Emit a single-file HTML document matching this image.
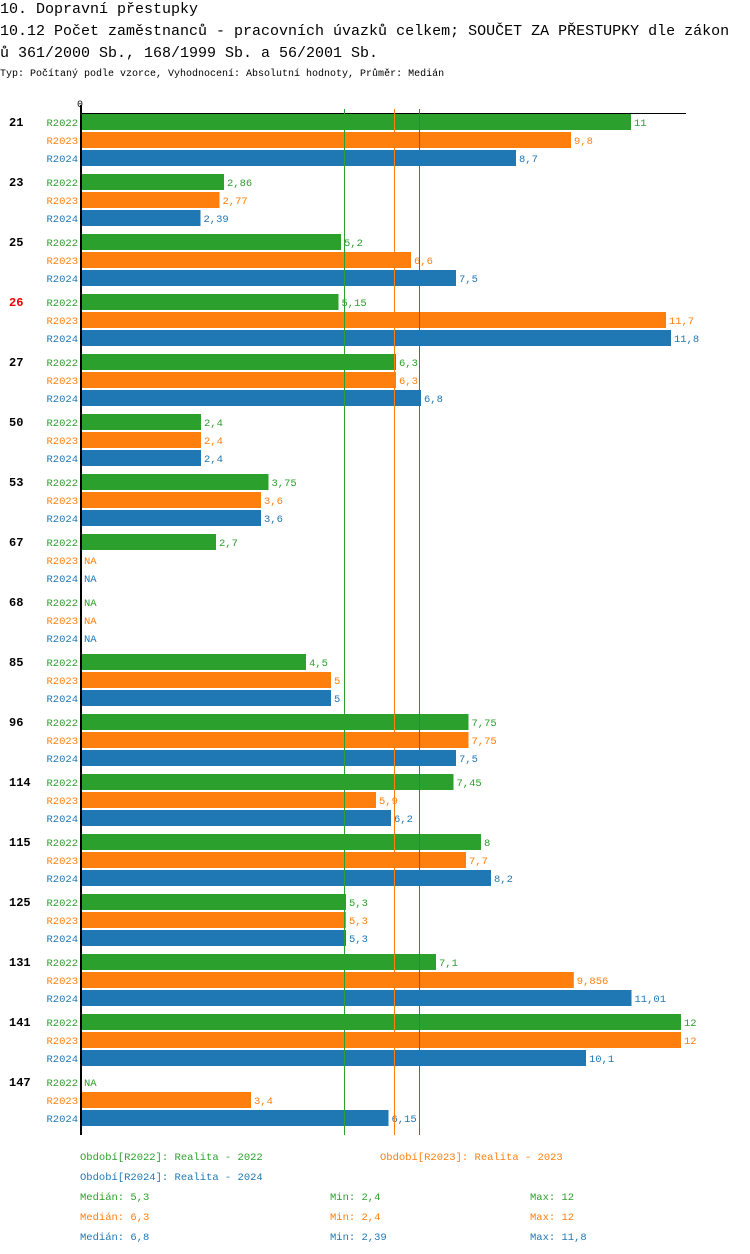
<!DOCTYPE html>
<html><head><meta charset="utf-8">
<style>
body{margin:0;background:#fff;width:750px;height:1254px;overflow:hidden}
svg{display:block}
text{font-family:"Liberation Mono",monospace}
</style></head>
<body>
<svg id="c" width="750" height="1254"></svg>
<script>
const categories=["21","23","25","26","27","50","53","67","68","85","96","114","115","125","131","141","147"];
const highlight=["26"];
const series=["R2022","R2023","R2024"];
const v2022=[11,2.86,5.2,5.15,6.3,2.4,3.75,2.7,null,4.5,7.75,7.45,8,5.3,7.1,12,null];
const v2023=[9.8,2.77,6.6,11.7,6.3,2.4,3.6,null,null,5,7.75,5.9,7.7,5.3,9.856,12,3.4];
const v2024=[8.7,2.39,7.5,11.8,6.8,2.4,3.6,null,null,5,7.5,6.2,8.2,5.3,11.01,10.1,6.15];
const medians=[5.3,6.3,6.8];
const colors=["#2ca02c","#ff7f0e","#1f77b4"];
const vals=[v2022,v2023,v2024];
const NS="http://www.w3.org/2000/svg";
const svg=document.getElementById("c");
function el(t,a,txt){const e=document.createElementNS(NS,t);for(const k in a)e.setAttribute(k,a[k]);if(txt!=null)e.textContent=txt;svg.appendChild(e);return e;}
const x0=81,scale=50;
const X=v=>x0+v*scale;
const Y=(g,s)=>114+g*60+s*18;
const fmt=v=>String(v).replace(".",",");
let t;
t=el("text",{x:0,y:13,"font-size":15},"10. Dopravní přestupky");

t=el("text",{x:0,y:35,"font-size":15},"10.12 Počet zaměstnanců - pracovních úvazků celkem; SOUČET ZA PŘESTUPKY dle zákon");

t=el("text",{x:0,y:57,"font-size":15},"ů 361/2000 Sb., 168/1999 Sb. a 56/2001 Sb.");

t=el("text",{x:0,y:76,"font-size":10},"Typ: Počítaný podle vzorce, Vyhodnocení: Absolutní hodnoty, Průměr: Medián");

t=el("text",{x:80,y:107,"font-size":10,"text-anchor":"middle"},"0");

t=el("line",{x1:81,y1:113.5,x2:686,y2:113.5,stroke:"#000","stroke-width":1});

categories.forEach((c,g)=>{
  t=el("text",{x:9,y:Y(g,0)+12,"font-size":12,"font-weight":"bold","font-family":"Liberation Sans,sans-serif",fill:highlight.includes(c)?"#e00":"#000"},c);
  
  series.forEach((s,i)=>{
    const y=Y(g,i),v=vals[i][g];
    t=el("text",{x:78,y:y+12,"font-size":10.5,"text-anchor":"end",fill:colors[i]},s);
    
    if(v==null){
      t=el("text",{x:x0+3,y:y+12,"font-size":10.5,fill:colors[i]},"NA");
      
    }else{
      t=el("rect",{x:x0+1,y:y,width:X(v)-x0-1,height:16,fill:colors[i]});
      
      t=el("text",{x:X(v)+3,y:y+12,"font-size":10.5,fill:colors[i]},fmt(v));
      
    }
  });
});
medians.forEach((m,i)=>{
  t=el("line",{x1:X(m)-1.5,y1:109,x2:X(m)-1.5,y2:1135,stroke:colors[i],"stroke-width":1});
  
});
t=el("line",{x1:81,y1:105,x2:81,y2:1135,stroke:"#000","stroke-width":2});

const leg=[[80,1160,0,"Období[R2022]: Realita - 2022"],[380,1160,1,"Období[R2023]: Realita - 2023"],[80,1180,2,"Období[R2024]: Realita - 2024"]];
leg.forEach(l=>{t=el("text",{x:l[0],y:l[1],"font-size":10.5,fill:colors[l[2]]},l[3]);
});
const mins=[2.4,2.4,2.39],maxs=[12,12,11.8];
for(let i=0;i<3;i++){
  const y=1200+i*20;
  t=el("text",{x:80,y:y,"font-size":10.5,fill:colors[i]},"Medián: "+fmt(medians[i]));
  
  t=el("text",{x:330,y:y,"font-size":10.5,fill:colors[i]},"Min: "+fmt(mins[i]));
  
  t=el("text",{x:530,y:y,"font-size":10.5,fill:colors[i]},"Max: "+fmt(maxs[i]));
  
}
</script>
</body></html>
